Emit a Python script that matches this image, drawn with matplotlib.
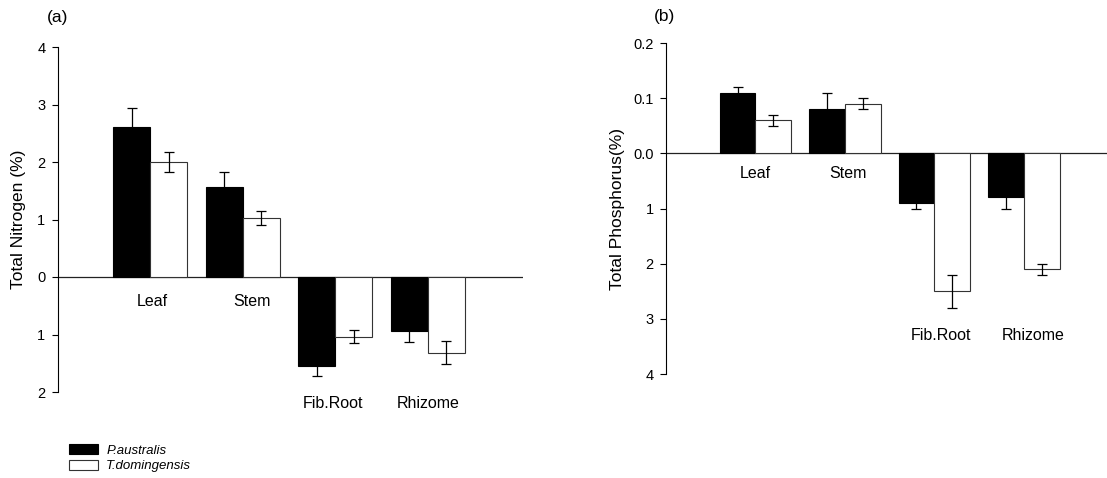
import numpy as np
import matplotlib
matplotlib.use("Agg")
import matplotlib.pyplot as plt
from matplotlib.ticker import FixedLocator, FuncFormatter

plt.rcParams['font.family'] = ['Liberation Sans', 'DejaVu Sans']

organs = ["Leaf", "Stem", "Fib.Root", "Rhizome"]
species = ["P.australis", "T.domingensis"]

# nitrogen (%), below-ground organs stored as negative so they hang under the zero line
n_paus = np.array([2.61, 1.57, -1.55, -0.94])
n_paus_err = np.array([0.33, 0.26, 0.17, 0.19])
n_tdom = np.array([2.00, 1.03, -1.04, -1.32])
n_tdom_err = np.array([0.17, 0.12, 0.11, 0.20])

# phosphorus (%), above-ground on a 10x finer scale than below-ground
p_paus = np.array([0.11, 0.08, -0.9, -0.8])
p_paus_err = np.array([0.01, 0.03, 0.1, 0.2])
p_tdom = np.array([0.06, 0.09, -2.5, -2.1])
p_tdom_err = np.array([0.01, 0.01, 0.3, 0.1])

n_ticks = [-2, -1, 0, 1, 2, 3, 4]
p_ticks = [-4, -3, -2, -1, 0, 0.1, 0.2]


def p_fwd(y):
    y = np.asarray(y, dtype=float)
    return np.where(y >= 0, y * 10, y)


def p_inv(y):
    y = np.asarray(y, dtype=float)
    return np.where(y >= 0, y / 10, y)


W, H = 1107, 478
fig = plt.figure(figsize=(W / 100, H / 100), dpi=100)
ax_a = fig.add_axes([58 / W, 86 / H, 465 / W, 345 / H])
ax_b = fig.add_axes([666 / W, 104 / H, 441 / W, 331 / H])

x = np.arange(1, 5)
bw = 0.4
fs = 11.5


def draw(ax, a, a_err, b, b_err):
    ax.bar(x - bw / 2, a, bw, color='black', edgecolor='black', linewidth=0.8, zorder=2)
    ax.bar(x + bw / 2, b, bw, color='white', edgecolor='#333333', linewidth=0.8, zorder=2)
    ax.errorbar(x - bw / 2, a, yerr=a_err, fmt='none', ecolor='black',
                elinewidth=0.9, capsize=3.5, capthick=0.9, zorder=3)
    ax.errorbar(x + bw / 2, b, yerr=b_err, fmt='none', ecolor='black',
                elinewidth=0.9, capsize=3.5, capthick=0.9, zorder=3)
    ax.axhline(0, color='#222222', linewidth=0.9, zorder=1)
    for s in ['top', 'right', 'bottom']:
        ax.spines[s].set_visible(False)
    ax.spines['left'].set_linewidth(0.8)
    ax.set_xticks([])
    ax.tick_params(axis='y', direction='out', length=4, width=0.8, labelsize=10.5, pad=5)


# (a) nitrogen
draw(ax_a, n_paus, n_paus_err, n_tdom, n_tdom_err)
ax_a.set_xlim(0, 5.03)
ax_a.set_ylim(-2, 4)
ax_a.yaxis.set_major_locator(FixedLocator(n_ticks))
ax_a.yaxis.set_major_formatter(FuncFormatter(lambda v, p: f"{abs(v):g}"))
ax_a.set_ylabel("Total Nitrogen (%)", fontsize=12.5, labelpad=8)
ax_a.text(1.02, -0.42, organs[0], ha='center', va='center', fontsize=fs)
ax_a.text(2.1, -0.42, organs[1], ha='center', va='center', fontsize=fs)
ax_a.text(2.97, -2.2, organs[2], ha='center', va='center', fontsize=fs)
ax_a.text(4.0, -2.2, organs[3], ha='center', va='center', fontsize=fs)
ax_a.text(-0.12, 4.52, "(a)", ha='left', va='center', fontsize=12.5)

# (b) phosphorus, piecewise scale: 0.1 per step above zero, 1 per step below
draw(ax_b, p_paus, p_paus_err, p_tdom, p_tdom_err)
ax_b.set_yscale('function', functions=(p_fwd, p_inv))
ax_b.set_xlim(0, 4.93)
ax_b.set_ylim(-4, 0.2)
ax_b.yaxis.set_major_locator(FixedLocator(p_ticks))
ax_b.yaxis.set_minor_locator(FixedLocator([]))
ax_b.yaxis.set_major_formatter(
    FuncFormatter(lambda v, p: f"{v:.1f}" if v >= 0 else f"{abs(v):g}"))
ax_b.set_ylabel("Total Phosphorus(%)", fontsize=12.5, labelpad=6)
ax_b.text(1.0, -0.37, organs[0], ha='center', va='center', fontsize=fs)
ax_b.text(2.03, -0.37, organs[1], ha='center', va='center', fontsize=fs)
ax_b.text(3.07, -3.3, organs[2], ha='center', va='center', fontsize=fs)
ax_b.text(4.1, -3.3, organs[3], ha='center', va='center', fontsize=fs)
ax_b.text(-0.14, 0.248, "(b)", ha='left', va='center', fontsize=12.5)

# legend boxes with italic species names
handles = [plt.Rectangle((0, 0), 1, 1, facecolor='black', edgecolor='black', linewidth=0.8),
           plt.Rectangle((0, 0), 1, 1, facecolor='white', edgecolor='#333333', linewidth=0.8)]
fig.legend(handles, species, loc='upper left', bbox_to_anchor=(60 / W, 1 - 435 / H),
           frameon=False, prop={'style': 'italic', 'size': 9.5}, handlelength=2.2,
           handleheight=0.75, handletextpad=0.6, labelspacing=0.25, borderpad=0.2)

fig.savefig("out.png", dpi=100)
